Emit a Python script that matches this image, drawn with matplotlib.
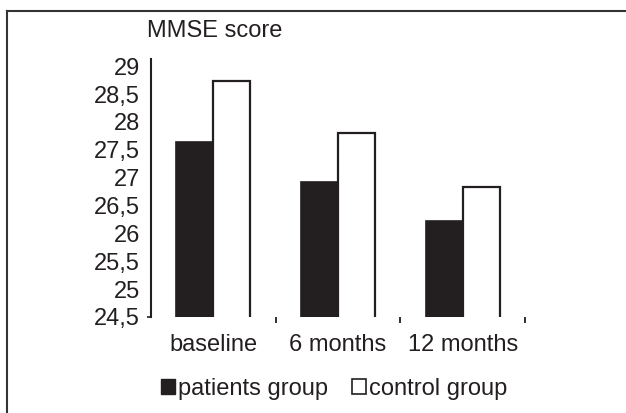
import matplotlib
matplotlib.use("Agg")
import matplotlib.pyplot as plt
from matplotlib.patches import Patch
from matplotlib.lines import Line2D
import numpy as np

categories = ["baseline", "6 months", "12 months"]
patients = [27.64, 26.93, 26.22]
control = [28.73, 27.81, 26.83]
yticks = [24.5, 25, 25.5, 26, 26.5, 27, 27.5, 28, 28.5, 29]
ytick_labels = ["24,5", "25", "25,5", "26", "26,5", "27", "27,5", "28", "28,5", "29"]
series_names = ["patients group", "control group"]

plt.rcParams['font.family'] = ['Liberation Sans', 'DejaVu Sans']
dark = "#231f20"
fs = 17

fig = plt.figure(figsize=(6.26, 4.13), dpi=100)
ax = fig.add_axes([151/626, 1-317/413, (525-151)/626, (317-59)/413])

x = np.arange(len(categories))
w = 0.297
ax.bar(x - w/2, patients, w, color=dark, edgecolor=dark, linewidth=1.2)
ax.bar(x + w/2, control, w, color="white", edgecolor=dark, linewidth=1.6)

ax.set_xlim(-0.5, 2.5)
ax.set_ylim(24.5, 29.13)
ax.yaxis.remove_overlapping_locs = False
ax.set_yticks(yticks)
ax.set_yticklabels(ytick_labels, fontsize=fs, color=dark)
ax.tick_params(axis='y', length=0, pad=8)
ax.set_yticks([24.5], minor=True)
ax.tick_params(axis='y', which='minor', length=3, width=1.2, color=dark, left=True)

ax.set_xticks(x)
ax.set_xticklabels(categories, fontsize=fs, color=dark)
ax.tick_params(axis='x', length=0, pad=12)
ax.set_xticks([0.5, 1.5, 2.5], minor=True)
ax.tick_params(axis='x', which='minor', length=4, width=1.3, color=dark, direction='out')

for s in ['top', 'right', 'bottom']:
    ax.spines[s].set_visible(False)
ax.spines['left'].set_linewidth(1.5)
ax.spines['left'].set_color(dark)

fig.text(147/626, 1-31/413, "MMSE score", fontsize=fs, color=dark, va='center', ha='left')

handles = [Patch(facecolor=dark, edgecolor=dark, linewidth=1.0),
           Patch(facecolor="white", edgecolor=dark, linewidth=1.2)]
fig.legend(handles, series_names, loc='center', bbox_to_anchor=(334/626, 1-389/413),
           ncol=2, frameon=False, fontsize=fs, handlelength=0.6, handleheight=0.6,
           handletextpad=0.12, columnspacing=1.0, labelcolor=dark)

# figure border lines (top and left)
fig.add_artist(Line2D([7/626, 1], [1-11/413, 1-11/413], transform=fig.transFigure, color="#333333", lw=1.5))
fig.add_artist(Line2D([7/626, 7/626], [0, 1-11/413], transform=fig.transFigure, color="#333333", lw=1.5))

fig.savefig("out.png", dpi=100)
